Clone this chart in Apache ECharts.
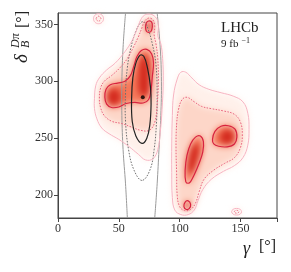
<!DOCTYPE html>
<html><head><meta charset="utf-8">
<script src="https://cdn.jsdelivr.net/npm/echarts@6/dist/echarts.min.js"></script>
<style>
html,body{margin:0;padding:0;background:#fff;}
#wrap{position:relative;width:291px;height:272px;overflow:hidden;}
#heat,#main{position:absolute;left:0;top:0;width:291px;height:272px;}
#heat{filter:blur(3.2px);}
</style></head><body>
<div id="wrap"><div id="heat"></div><div id="main"></div></div>
<script>
// ---- axis ticks ----
const gammaTicks = [0, 50, 100, 150];
const deltaTicks = [200, 250, 300, 350];

// ---- LHCb combination contours (gamma, delta) ----
const left3sig = [[30,285],[31,296],[34,303],[40,310],[47,316],[55,326],[61,336],[65,346],[68,354],[71,358],[75,359],[79,357.5],[82,353],[82.5,347],[82,340],[84.5,333],[86,320],[86.5,300],[85.5,275],[84,255],[82,240],[78,232],[72,231],[66,236],[58,243],[50,249],[42,254],[36,259],[32,267],[30,276]];
const left2sig = [[34,285],[35,294],[38,300],[44,305],[51,312],[57,320],[62,330],[66,339],[69,347],[71,352.5],[74.5,355.5],[78,354],[79.5,348],[79,341],[80.5,333],[82,320],[82.5,300],[81.5,280],[79.5,264],[75,257],[68,257],[60,260],[52,263],[44,265],[38,270],[35,277]];
const left1sig = [[38.5,286],[39.5,293],[43,297],[49,298.5],[55,300],[59.5,305],[62.5,314],[65,322],[68.5,327],[73,328],[77,324],[78.5,316],[77.5,304],[76.5,293],[74.5,284],[70,281],[63,281.5],[56,280.5],[50,277.5],[44,277],[40,280]];
const top1sig = [[72,347],[72.5,351],[74.5,353],[77,352],[77.5,348],[76.5,344],[74.5,343],[72.7,344]];
const right3sig = [[94,270],[95,288],[98,302],[101,308],[105,308],[110,303],[116,297],[124,293],[134,290],[144,287],[152,282],[156,272],[157,258],[156,244],[152,233],[145,226],[136,221],[126,214],[119,205],[115,195],[112,187],[107,183],[101,183],[96,187],[94,198],[93.5,220],[93.5,245]];
const right2sig = [[97.5,262],[99,275],[102,284],[106,286],[112,282],[118,278],[126,276],[136,274],[145,271],[150,264],[151.5,253],[150,242],[145,233],[137,228],[128,222],[120,214],[116,203],[113,193],[109,187.5],[104,186.5],[100,190],[98,200],[97.5,220],[97,242]];
const rightLow1sig = [[105,212],[104.5,222],[106,235],[109,245],[113,251],[117,252],[119.5,247],[119,238],[116,228],[112,218],[109,212],[107,210.5]];
const rightUp1sig = [[127,249],[129,256],[134,260.5],[140,261],[145.5,258],[147,251],[145,245],[139,242.5],[132,243],[128,245]];
const rightBot1sig = [[103.5,190],[104.5,194],[107,195],[109,192],[108,188.5],[105.5,187.5]];
const islandTL3 = [[29.2,355],[30.4,358.1],[33.3,359.4],[36.2,358.1],[37.4,355],[36.2,351.9],[33.3,350.6],[30.4,351.9]];
const islandTL2 = [[31.3,355],[33.3,357.2],[35.3,355],[33.3,352.8]];
const islandBR3 = [[142.7,185.5],[143.9,187.6],[146.8,188.4],[149.7,187.6],[150.9,185.5],[149.7,183.4],[146.8,182.6],[143.9,183.4]];
const islandBR2 = [[144.8,185.5],[146.8,186.8],[148.8,185.5],[146.8,184.2]];

// ---- likelihood cores (darkest regions) ----
const coreLeft = [[40.5,283],[41.5,291],[46,293.5],[50.5,291],[51.5,284],[48,279.5],[43.5,279.5]];
const coreVert = [[66.5,291],[66,305],[67.5,318],[71,323],[74.5,316],[75.5,302],[74.5,289],[70,287]];
const coreTop = [[72.8,348],[74,352],[76.3,351.5],[76.8,347.5],[75,344.5]];
const coreRightUp = [[133,249],[135.5,256],[141,257.5],[144.5,253.5],[143.5,246.5],[138,245]];
const coreRightLow = [[106.5,222],[108,236],[111.5,244],[115,245],[116,238],[113.5,227],[109.5,219]];
const coreBot = [[104.2,190],[105.8,193],[108.2,191.5],[106.5,188.2]];

// ---- other measurement (grey / black) ----
const grayOuterL = [[55.5,360],[53.5,330],[52.5,300],[52.5,270],[53.5,240],[55.5,210],[57,180]];
const grayOuterR = [[81.5,360],[84,330],[85,300],[84.5,270],[83,240],[81.5,210],[79.5,180]];
const grayDashed = [[69,213],[62.5,222],[58,240],[55.5,265],[55.5,290],[57,312],[60,330],[64,344],[68,351.5],[71,352],[74,346],[77.5,333],[80.5,315],[81.5,290],[81,265],[79,240],[75.5,222]];
const blackEllipse = [[69,245.5],[64,252],[61,265],[60.5,285],[61.5,303],[64,316],[67.5,323],[70.5,322],[73.5,312],[76,295],[76.5,280],[75.5,262],[73,250]];
const bestFit = [[69.7,286]];

const SERIF = '"Liberation Serif", "DejaVu Serif", serif';

function shapeSeries(pts, closed, style, smooth) {
  return {
    type: 'custom', coordinateSystem: 'cartesian2d', clip: true, silent: true,
    data: [pts[0]],
    renderItem: function (params, api) {
      return {
        type: closed ? 'polygon' : 'polyline',
        shape: { points: pts.map(function (p) { return api.coord(p); }), smooth: smooth === undefined ? 0.4 : smooth },
        style: style
      };
    }
  };
}

const grid = { left: 58, right: 14, top: 13, bottom: 54 };
function axes(show) {
  return {
    xAxis: {
      type: 'value', min: 0, max: 180, interval: 50, show: show,
      axisLine: { show: true, onZero: false, lineStyle: { color: '#444', width: 1 } },
      axisTick: { show: true, length: 4, lineStyle: { color: '#444' } },
      axisLabel: { fontFamily: SERIF, fontSize: 12, color: '#333', margin: 5,
        customValues: gammaTicks },
      splitLine: { show: false }
    },
    yAxis: {
      type: 'value', min: 180, max: 360, show: show,
      axisLine: { show: true, onZero: false, lineStyle: { color: '#444', width: 1 } },
      axisTick: { show: true, length: 4, lineStyle: { color: '#444' }, customValues: deltaTicks },
      axisLabel: { fontFamily: SERIF, fontSize: 12, color: '#333', margin: 5, customValues: deltaTicks },
      splitLine: { show: false }
    }
  };
}

// ---------- heat layer ----------
const heat = echarts.init(document.getElementById('heat'), null, { renderer: 'canvas' });
const hFill = function (c) { return { fill: c, stroke: 'none' }; };
const heatSeries = [];
[left3sig, right3sig, islandTL3, islandBR3].forEach(p => heatSeries.push(shapeSeries(p, true, hFill('#fff0ea'))));
[left2sig, right2sig, islandTL2, islandBR2].forEach(p => heatSeries.push(shapeSeries(p, true, hFill('#fdd6c8'))));
[left1sig, top1sig, rightLow1sig, rightUp1sig, rightBot1sig].forEach(p => heatSeries.push(shapeSeries(p, true, hFill('#f5785a'))));
[coreLeft, coreVert, coreTop, coreRightUp, coreRightLow, coreBot].forEach(p => heatSeries.push(shapeSeries(p, true, hFill('#d42b1f'))));
const ha = axes(false);
heat.setOption({ animation: false, grid: grid, xAxis: ha.xAxis, yAxis: ha.yAxis, series: heatSeries });

// ---------- main layer ----------
const chart = echarts.init(document.getElementById('main'), null, { renderer: 'canvas' });
const s3 = { fill: 'none', stroke: '#f7b4c2', lineWidth: 1 };
const s2 = { fill: 'none', stroke: '#e9657f', lineWidth: 1, lineDash: [1.6, 1.4] };
const s1 = { fill: 'none', stroke: '#d8233f', lineWidth: 1.2 };
const series = [];
series.push(shapeSeries(grayOuterL, false, { fill: 'none', stroke: '#9a9a9a', lineWidth: 1 }));
series.push(shapeSeries(grayOuterR, false, { fill: 'none', stroke: '#9a9a9a', lineWidth: 1 }));
series.push(shapeSeries(grayDashed, true, { fill: 'none', stroke: '#707070', lineWidth: 1, lineDash: [1.6, 1.4] }));
[left3sig, right3sig, islandTL3, islandBR3].forEach(p => series.push(shapeSeries(p, true, s3)));
[left2sig, right2sig, islandTL2, islandBR2].forEach(p => series.push(shapeSeries(p, true, s2)));
[left1sig, top1sig, rightLow1sig, rightUp1sig, rightBot1sig].forEach(p => series.push(shapeSeries(p, true, s1)));
series.push(shapeSeries(blackEllipse, true, { fill: 'none', stroke: '#222', lineWidth: 1.2 }));
series.push({ type: 'scatter', data: bestFit, symbolSize: 4, itemStyle: { color: '#000' }, silent: true, z: 10 });

const ma = axes(true);
chart.setOption({
  animation: false,
  grid: Object.assign({ show: true, borderColor: '#444', borderWidth: 1, backgroundColor: 'transparent' }, grid),
  xAxis: ma.xAxis, yAxis: ma.yAxis,
  series: series,
  graphic: [
    { type: 'text', x: 221, y: 21, style: { text: 'LHCb', font: '15px ' + SERIF, fill: '#222' } },
    { type: 'text', x: 221, y: 39, style: { text: '9 fb', font: '11px ' + SERIF, fill: '#222' } },
    { type: 'text', x: 241.5, y: 36.5, style: { text: '−1', font: '8px ' + SERIF, fill: '#222' } },
    { type: 'text', x: 243, y: 240, style: { text: 'γ', font: 'italic 18px ' + SERIF, fill: '#222' } },
    { type: 'text', x: 259, y: 239, style: { text: '[°]', font: '16px ' + SERIF, fill: '#222' } },
    { type: 'group', x: 27, y: 63, rotation: Math.PI / 2, children: [
      { type: 'text', style: { x: 0, y: 4, text: 'δ', font: 'italic 19px ' + SERIF, fill: '#222', verticalAlign: 'bottom' } },
      { type: 'text', style: { x: 15, y: -5.5, text: 'Dπ', font: 'italic 12px ' + SERIF, fill: '#222', verticalAlign: 'bottom' } },
      { type: 'text', style: { x: 15, y: 4.5, text: 'B', font: 'italic 12px ' + SERIF, fill: '#222', verticalAlign: 'bottom' } },
      { type: 'text', style: { x: 35, y: 3.5, text: '[°]', font: '16px ' + SERIF, fill: '#222', verticalAlign: 'bottom' } }
    ] }
  ]
});
</script>
</body></html>
